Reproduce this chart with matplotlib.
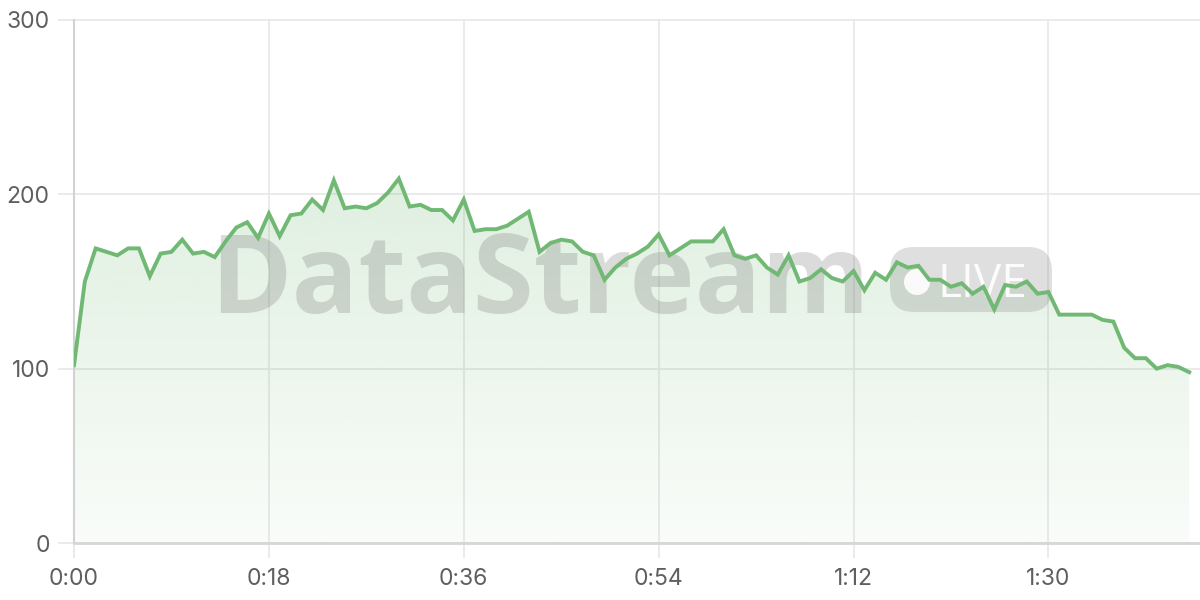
import numpy as np
import matplotlib
matplotlib.use("Agg")
import matplotlib.pyplot as plt
from matplotlib.patches import FancyBboxPatch, Circle
from matplotlib.transforms import IdentityTransform

# ---- data ----
seconds = list(range(0, 104))
values = [102, 150, 169, 167, 165, 169, 169, 153, 166, 167,
          174, 166, 167, 164, 173, 181, 184, 175, 189, 176,
          188, 189, 197, 191, 208, 192, 193, 192, 195, 201,
          209, 193, 194, 191, 191, 185, 197, 179, 180, 180,
          182, 186, 190, 167, 172, 174, 173, 167, 165, 151,
          158, 163, 166, 170, 177, 165, 169, 173, 173, 173,
          180, 165, 163, 165, 158, 154, 165, 150, 152, 157,
          152, 150, 156, 145, 155, 151, 161, 158, 159, 151,
          151, 147, 149, 143, 147, 134, 148, 147, 150, 143,
          144, 131, 131, 131, 131, 128, 127, 112, 106, 106,
          100, 102, 101, 98]
x_ticks = [0, 18, 36, 54, 72, 90]
x_tick_labels = ["0:00", "0:18", "0:36", "0:54", "1:12", "1:30"]
y_ticks = [0, 100, 200, 300]
y_tick_labels = ["0", "100", "200", "300"]

LINE = "#70b873"
GRID = "#e8e8e8"
LABEL = "#5f5f5f"

plt.rcParams['font.family'] = ['Inter', 'DejaVu Sans']

fig = plt.figure(figsize=(12, 6), dpi=100)
fig.patch.set_facecolor("white")
ax = fig.add_axes([74/1200, 57/600, (1200-74)/1200, (543-20)/600])
ax.set_xlim(0, 104)
ax.set_ylim(0, 300)

# gradient fill
poly = ax.fill_between(seconds, values, 0, facecolor="none", edgecolor="none")
ny = 256
alphas = np.linspace(0.04, 0.30, ny)[:, None]
rgb = np.array(matplotlib.colors.to_rgb(LINE))
img = np.zeros((ny, 2, 4))
img[..., :3] = rgb
img[..., 3] = alphas
im = ax.imshow(img, extent=[0, 104, 0, 300], origin="lower", aspect="auto",
               zorder=1, interpolation="bilinear")
path = poly.get_paths()[0]
im.set_clip_path(path, transform=ax.transData)

ax.plot(seconds, values, color=LINE, linewidth=2.8, zorder=5,
        solid_joinstyle="miter")

# axes styling
ax.set_xticks(x_ticks)
ax.set_xticklabels(x_tick_labels)
ax.set_yticks(y_ticks)
ax.set_yticklabels(y_tick_labels)
ax.grid(True, color=GRID, linewidth=1.2, zorder=0)
for gl in ax.get_ygridlines() + ax.get_xgridlines():
    gl.set_clip_on(False)
ax.set_axisbelow(True)
ax.tick_params(axis="y", length=11.5, width=1.2, color=GRID, pad=6,
               labelsize=16.5, labelcolor=LABEL)
ax.tick_params(axis="x", length=11, width=1.2, color=GRID, pad=7,
               labelsize=16.5, labelcolor=LABEL)
for s in ("top", "right"):
    ax.spines[s].set_visible(False)
ax.spines["left"].set_color("#d2d2d2")
ax.spines["left"].set_linewidth(1.5)
ax.spines["bottom"].set_color("#d6d6d6")
ax.spines["bottom"].set_linewidth(2)
ax.spines["left"].set_zorder(2)

# ---- watermark (pixel coordinates) ----
renderer = fig.canvas.get_renderer()
ident = IdentityTransform()

def fit_text(txt, x, y, width, size0, **kw):
    t = ax.text(x, y, txt, transform=ident, fontsize=size0, clip_on=False, **kw)
    bb = t.get_window_extent(renderer)
    t.set_fontsize(size0 * width / bb.width)
    return t

fit_text("DataStream", 210, 600-313, 660, 80, ha="left", va="baseline",
         fontweight="bold", color="#7a7a7a", alpha=0.27, zorder=3,
         family=["Open Sans", "DejaVu Sans"])

pill = FancyBboxPatch((890, 600-312), 162, 65,
                      boxstyle="round,pad=0,rounding_size=24",
                      transform=ident, facecolor="#7a7a7a", alpha=0.24,
                      edgecolor="none", zorder=3, clip_on=False)
ax.add_patch(pill)
ax.add_patch(Circle((917, 600-282), 13, transform=ident, facecolor="white",
                    edgecolor="none", alpha=0.9, zorder=3.5, clip_on=False))
ax.text(938, 600-297, "LIVE", transform=ident, fontsize=33, ha="left",
        va="baseline", color="white", alpha=0.92, zorder=3.5,
        fontweight="normal", family=["Open Sans", "DejaVu Sans"], clip_on=False)

fig.savefig("out.png", dpi=100)
